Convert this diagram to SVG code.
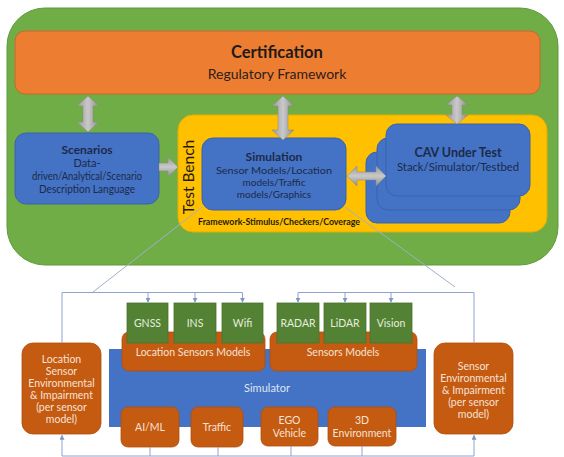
<svg xmlns="http://www.w3.org/2000/svg" width="564" height="457" viewBox="0 0 564 457">
  <defs>
    <linearGradient id="gv" x1="0" y1="0" x2="1" y2="0">
      <stop offset="0" stop-color="#9a9a9a"/>
      <stop offset="0.5" stop-color="#c9c9c9"/>
      <stop offset="1" stop-color="#8e8e8e"/>
    </linearGradient>
    <linearGradient id="gh" x1="0" y1="0" x2="0" y2="1">
      <stop offset="0" stop-color="#9a9a9a"/>
      <stop offset="0.5" stop-color="#c9c9c9"/>
      <stop offset="1" stop-color="#8e8e8e"/>
    </linearGradient>
    <marker id="ah" viewBox="0 0 6 6" refX="5" refY="3" markerWidth="5" markerHeight="5" orient="auto">
      <path d="M0,0 L6,3 L0,6 z" fill="#7f95c8"/>
    </marker>
  </defs>
  <style>
    text { font-family: Lato, "Noto Sans", sans-serif; text-anchor: middle; }
    .blue { fill: #4472c4; stroke: #3a63ad; stroke-width: 1; }
    .navy { fill: #1c2a4a; }
    .b { font-weight: bold; }
    .t11 { font-size: 11px; }
    .sg { fill: #548235; stroke: #4a7330; stroke-width: 0.8; }
    .so { fill: #c55a11; stroke: #b04f0e; stroke-width: 0.8; }
    .lt { fill: #f6e2d6; font-size: 10.5px; }
    .lg { fill: #e6eddf; font-size: 10.5px; }
    .wire { fill: none; stroke: #8fa2cf; stroke-width: 1; }
    .arrow { fill: url(#gv); stroke: #8a8a8a; stroke-width: 0.5; }
    .arrowh { fill: url(#gh); stroke: #8a8a8a; stroke-width: 0.5; }
  </style>

  <!-- outer framework panel -->
  <g id="framework">
    <rect x="7" y="8" width="551" height="257" rx="38" fill="#70ad47" stroke="#5f9a3a" stroke-width="1"/>
  </g>

  <g id="certification">
    <rect x="15" y="31" width="525" height="63" rx="10" fill="#ed7d31" stroke="#c9692a" stroke-width="1"/>
    <text x="277" y="58" class="b" font-size="16.5" fill="#1e1a18">Certification</text>
    <text x="277" y="79" font-size="14" fill="#2a211b">Regulatory Framework</text>
  </g>

  <g id="scenarios">
    <rect x="15" y="133" width="144" height="71" rx="11" class="blue"/>
    <text x="87" y="154" class="b navy" font-size="12">Scenarios</text>
    <text x="87" y="167" class="navy t11">Data-</text>
    <text x="87" y="180" class="navy t11" textLength="110" lengthAdjust="spacingAndGlyphs">driven/Analytical/Scenario</text>
    <text x="87" y="193" class="navy t11" textLength="96" lengthAdjust="spacingAndGlyphs">Description Language</text>
  </g>

  <g id="test-bench">
    <rect x="178" y="115" width="369" height="117" rx="15" fill="#ffc000" stroke="#e6ad00" stroke-width="1"/>
    <text transform="translate(194,177) rotate(-90)" font-size="15.5" fill="#1e1a10">Test Bench</text>
    <text x="279" y="225" class="b" font-size="8.5" fill="#1e1a10" textLength="162" lengthAdjust="spacingAndGlyphs">Framework-Stimulus/Checkers/Coverage</text>
  </g>

  <g id="simulation">
    <rect x="202" y="138" width="144" height="72" rx="11" class="blue"/>
    <text x="274" y="161" class="b navy" font-size="12">Simulation</text>
    <text x="274" y="174" class="navy" font-size="10" textLength="116" lengthAdjust="spacingAndGlyphs">Sensor Models/Location</text>
    <text x="274" y="186" class="navy" font-size="10">models/Traffic</text>
    <text x="274" y="198" class="navy" font-size="10">models/Graphics</text>
  </g>

  <g id="cav-under-test">
    <rect x="366" y="152" width="144" height="71" rx="11" class="blue"/>
    <rect x="377" y="138" width="143" height="72" rx="11" class="blue"/>
    <rect x="386" y="124" width="144" height="72" rx="11" class="blue"/>
    <text x="458" y="157" class="b navy" font-size="12.5">CAV Under Test</text>
    <text x="458" y="171" class="navy" font-size="11.5" textLength="122" lengthAdjust="spacingAndGlyphs">Stack/Simulator/Testbed</text>
  </g>

  <!-- block arrows inside the framework -->
  <g id="block-arrows">
    <path class="arrow" d="M88,96 L99,106 L93,106 L93,122 L99,122 L88,132 L77,122 L83,122 L83,106 L77,106 Z"/>
    <path class="arrow" d="M283,96 L294,106 L288,106 L288,130 L294,130 L283,140 L272,130 L278,130 L278,106 L272,106 Z"/>
    <path class="arrow" d="M457,96 L468,105 L462,105 L462,115 L468,115 L457,124 L446,115 L452,115 L452,105 L446,105 Z"/>
    <path class="arrowh" d="M159,163 L168,163 L168,157 L178,167 L168,177 L168,171 L159,171 Z"/>
    <path class="arrowh" d="M347,176 L357,166 L357,172 L376,172 L376,166 L386,176 L376,186 L376,180 L357,180 L357,186 Z"/>
  </g>

  <!-- zoom lines from the simulation block down to the detail view -->
  <g id="zoom-lines">
    <line x1="202" y1="207" x2="93" y2="292" stroke="#9fb0c8" stroke-width="1"/>
    <line x1="345" y1="207" x2="455" y2="287" stroke="#9fb0c8" stroke-width="1"/>
  </g>

  <!-- detail view -->
  <g id="simulator">
    <rect x="109" y="349" width="317" height="78" fill="#4472c4"/>
    <text x="267" y="392" font-size="11" fill="#dde6f5">Simulator</text>
  </g>

  <g id="location-sensors-models">
    <rect x="122" y="332" width="143" height="39" rx="7" class="so"/>
    <text x="193" y="356" class="lt">Location Sensors Models</text>
  </g>
  <g id="sensors-models">
    <rect x="270" y="332" width="147" height="39" rx="7" class="so"/>
    <text x="343" y="356" class="lt">Sensors Models</text>
  </g>

  <g id="gnss"><rect x="127" y="303" width="41" height="40" class="sg"/><text x="147.5" y="327" class="lg">GNSS</text></g>
  <g id="ins"><rect x="174" y="303" width="42" height="40" class="sg"/><text x="195" y="327" class="lg">INS</text></g>
  <g id="wifi"><rect x="222" y="303" width="41" height="40" class="sg"/><text x="242.5" y="327" class="lg">Wifi</text></g>
  <g id="radar"><rect x="277" y="303" width="42" height="40" class="sg"/><text x="298" y="327" class="lg">RADAR</text></g>
  <g id="lidar"><rect x="324" y="303" width="42" height="40" class="sg"/><text x="345" y="327" class="lg">LiDAR</text></g>
  <g id="vision"><rect x="370" y="303" width="42" height="40" class="sg"/><text x="391" y="327" class="lg">Vision</text></g>

  <g id="ai-ml"><rect x="121" y="407" width="58" height="40" rx="7" class="so"/><text x="150" y="431" class="lt">AI/ML</text></g>
  <g id="traffic"><rect x="191" y="407" width="52" height="40" rx="7" class="so"/><text x="217" y="431" class="lt">Traffic</text></g>
  <g id="ego-vehicle"><rect x="261" y="407" width="57" height="39" rx="7" class="so"/><text x="289.5" y="424" class="lt">EGO</text><text x="289.5" y="437" class="lt">Vehicle</text></g>
  <g id="environment-3d"><rect x="328" y="407" width="68" height="39" rx="7" class="so"/><text x="362" y="424" class="lt">3D</text><text x="362" y="437" class="lt">Environment</text></g>

  <g id="location-impairment">
    <rect x="22" y="343" width="79" height="91" rx="11" class="so"/>
    <text x="61.5" y="363" class="lt">Location</text>
    <text x="61.5" y="375" class="lt">Sensor</text>
    <text x="61.5" y="387" class="lt">Environmental</text>
    <text x="61.5" y="399" class="lt">&amp; Impairment</text>
    <text x="61.5" y="411" class="lt">(per sensor</text>
    <text x="61.5" y="423" class="lt">model)</text>
  </g>

  <g id="sensor-impairment">
    <rect x="434" y="343" width="79" height="91" rx="11" class="so"/>
    <text x="473.5" y="370" class="lt">Sensor</text>
    <text x="473.5" y="382" class="lt">Environmental</text>
    <text x="473.5" y="394" class="lt">&amp; Impairment</text>
    <text x="473.5" y="406" class="lt">(per sensor</text>
    <text x="473.5" y="418" class="lt">model)</text>
  </g>

  <g id="connectors">
    <!-- location impairment feeds GNSS / INS / Wifi -->
    <path class="wire" d="M62,343 L62,292.5 L242.5,292.5"/>
    <path class="wire" d="M148,292.5 L148,302" marker-end="url(#ah)"/>
    <path class="wire" d="M195,292.5 L195,302" marker-end="url(#ah)"/>
    <path class="wire" d="M242.5,292.5 L242.5,302" marker-end="url(#ah)"/>
    <!-- sensor impairment feeds RADAR / LiDAR / Vision -->
    <path class="wire" d="M474,343 L474,292.5 L298,292.5"/>
    <path class="wire" d="M298,292.5 L298,302" marker-end="url(#ah)"/>
    <path class="wire" d="M345,292.5 L345,302" marker-end="url(#ah)"/>
    <path class="wire" d="M391,292.5 L391,302" marker-end="url(#ah)"/>
    <!-- feedback from simulator blocks into both impairment models -->
    <path class="wire" d="M150,447 L150,456 M218,447 L218,456 M291,446 L291,456 M362,446 L362,456"/>
    <path class="wire" d="M62,456 L474,456"/>
    <path class="wire" d="M62,456 L62,435.5" marker-end="url(#ah)"/>
    <path class="wire" d="M474,456 L474,435.5" marker-end="url(#ah)"/>
  </g>
</svg>
